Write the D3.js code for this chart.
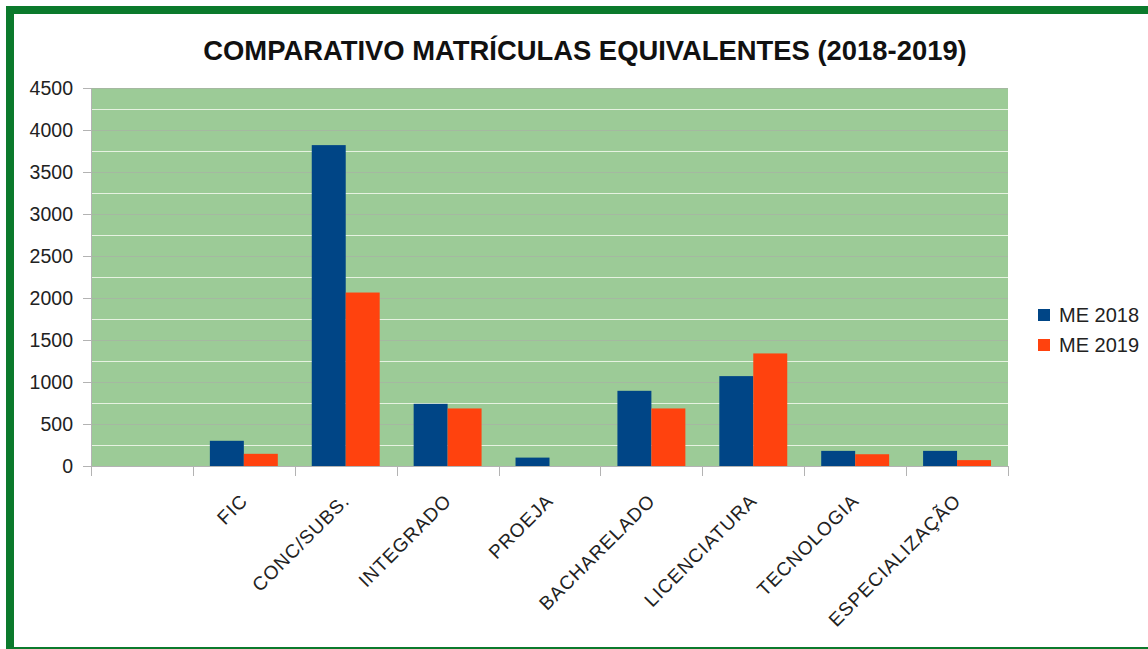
<!DOCTYPE html>
<html><head><meta charset="utf-8">
<script src="https://cdn.jsdelivr.net/npm/d3@7"></script>
<style>html,body{margin:0;padding:0;background:#fff;}svg{display:block;font-family:"Liberation Sans",Arial,sans-serif;}</style>
</head><body>
<svg id="c" width="1148" height="649"></svg>
<script>
const title = "COMPARATIVO MATRÍCULAS EQUIVALENTES (2018-2019)";
const categories = ["", "FIC", "CONC/SUBS.", "INTEGRADO", "PROEJA", "BACHARELADO", "LICENCIATURA", "TECNOLOGIA", "ESPECIALIZAÇÃO"];
const seriesNames = ["ME 2018", "ME 2019"];
const me2018 = [0, 300, 3820, 740, 100, 895, 1070, 180, 180];
const me2019 = [0, 145, 2065, 685, 0, 685, 1340, 140, 70];
const yTicks = [0, 500, 1000, 1500, 2000, 2500, 3000, 3500, 4000, 4500];
const colors = ["#004586", "#ff420e"];

const svg = d3.select("#c");
const L = 91, R = 1008, T = 88, B = 466;

// border
svg.append("rect").attr("x", 10).attr("y", 10).attr("width", 1160).attr("height", 641)
  .attr("fill", "none").attr("stroke", "#0b7a2c").attr("stroke-width", 8);

const x = d3.scaleBand().domain(categories.map((d,i)=>i)).range([L, R]).paddingInner(0).paddingOuter(0);
const y = d3.scaleLinear().domain([0, 4500]).range([B, T]);
const x1 = d3.scaleBand().domain([0,1]).range([0, x.bandwidth()]).paddingOuter(0.5).paddingInner(0);

svg.append("rect").attr("x", L).attr("y", T).attr("width", R-L).attr("height", B-T).attr("fill", "#9ccb97");

// minor white gridlines
const minor = d3.range(250, 4500, 500);
svg.append("g").selectAll("line").data(minor).join("line")
  .attr("x1", L).attr("x2", R).attr("y1", d=>Math.round(y(d))+0.5).attr("y2", d=>Math.round(y(d))+0.5)
  .attr("stroke", "#e6f2e1").attr("stroke-width", 1.2);
// major gridlines
svg.append("g").selectAll("line").data(yTicks.filter(d=>d>0)).join("line")
  .attr("x1", L).attr("x2", R).attr("y1", d=>Math.round(y(d))+0.5).attr("y2", d=>Math.round(y(d))+0.5)
  .attr("stroke", "#a5b8a1").attr("stroke-width", 1);

// bars
const series = [me2018, me2019];
series.forEach((vals, s) => {
  svg.append("g").selectAll("rect").data(vals).join("rect")
    .attr("x", (d,i)=>x(i)+x1(s)).attr("width", x1.bandwidth())
    .attr("y", d=>y(d)).attr("height", d=>B-y(d)).attr("fill", colors[s]);
});

// y axis
const ya = svg.append("g").attr("transform", `translate(${L},0)`)
  .call(d3.axisLeft(y).tickValues(yTicks).tickFormat(d3.format("d")).tickSize(8).tickPadding(10).tickSizeOuter(0));
ya.select(".domain").attr("stroke", "#b3b3b3");
ya.selectAll(".tick line").attr("stroke", "#b3b3b3");
ya.selectAll("text").attr("font-size", 19.5).attr("fill", "#222").attr("font-family", "Liberation Sans, Arial, sans-serif");

// x axis
const xa = svg.append("g").attr("transform", `translate(0,${B})`);
const xt = d3.range(categories.length+1).map(i => L + i*x.bandwidth());
xa.append("line").attr("x1", L).attr("x2", R).attr("y1", 0.5).attr("y2", 0.5).attr("stroke", "#b3b3b3");
xa.selectAll("line.t").data(xt).join("line").attr("class","t")
  .attr("x1", d=>Math.round(d)+0.5).attr("x2", d=>Math.round(d)+0.5).attr("y1", 0).attr("y2", 10).attr("stroke", "#b3b3b3");
xa.selectAll("text").data(categories).join("text")
  .attr("transform", (d,i)=>`translate(${x(i)+x.bandwidth()/2+5},${36}) rotate(-45)`)
  .attr("text-anchor", "end").attr("font-size", 19).attr("letter-spacing", 1).attr("fill", "#222")
  .text(d=>d);

// title
svg.append("text").attr("x", 585).attr("y", 60).attr("text-anchor", "middle")
  .attr("font-size", 27.4).attr("font-weight", "bold").attr("fill", "#111").text(title);

// legend
const lg = svg.append("g");
seriesNames.forEach((n, i) => {
  lg.append("rect").attr("x", 1038).attr("y", 309 + i*30).attr("width", 12).attr("height", 12).attr("fill", colors[i]);
  lg.append("text").attr("x", 1059).attr("y", 322 + i*30).attr("font-size", 20).attr("fill", "#222").text(n);
});
</script>
</body></html>
